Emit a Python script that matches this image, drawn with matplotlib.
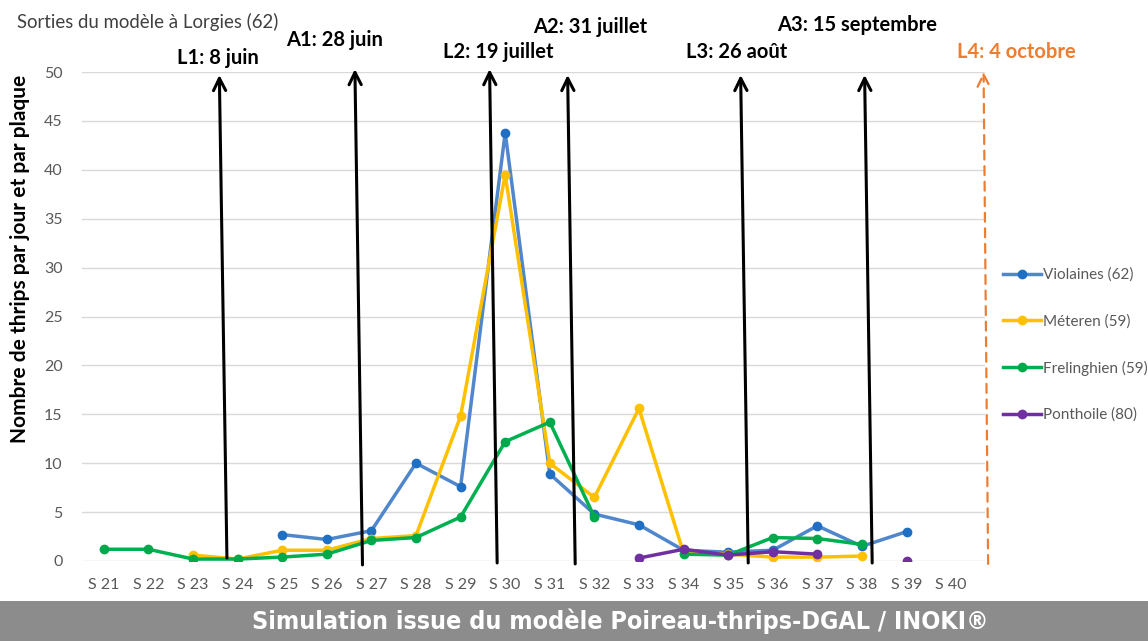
import numpy as np
import matplotlib
matplotlib.use('Agg')
import matplotlib.pyplot as plt
from matplotlib.patches import Rectangle

plt.rcParams['font.family'] = ['Lato', 'DejaVu Sans']

# weeks on the x axis
weeks = ['S 21', 'S 22', 'S 23', 'S 24', 'S 25', 'S 26', 'S 27', 'S 28', 'S 29', 'S 30',
         'S 31', 'S 32', 'S 33', 'S 34', 'S 35', 'S 36', 'S 37', 'S 38', 'S 39', 'S 40']

nan = np.nan
# thrips per day and per plate
violaines = [nan, nan, nan, nan, 2.7, 2.2, 3.1, 10.0, 7.6, 43.8,
             8.9, 4.8, 3.7, 1.1, 0.9, 1.1, 3.6, 1.5, 3.0, nan]
meteren = [nan, nan, 0.6, 0.2, 1.1, 1.1, 2.3, 2.6, 14.8, 39.5,
           10.0, 6.5, 15.6, 0.8, 0.7, 0.4, 0.4, 0.5, nan, nan]
frelinghien = [1.2, 1.2, 0.2, 0.2, 0.4, 0.7, 2.1, 2.4, 4.5, 12.2,
               14.2, 4.5, nan, 0.7, 0.6, 2.4, 2.3, 1.7, nan, nan]
ponthoile = [nan, nan, nan, nan, nan, nan, nan, nan, nan, nan,
             nan, nan, 0.3, 1.2, 0.6, 0.95, 0.7, nan, 0.0, nan]

series_names = ['Violaines (62)', 'Méteren (59)', 'Frelinghien (59)', 'Ponthoile (80)']

# model outputs: label and date expressed in weeks (S 21 = 0)
events = ['L1: 8 juin', 'A1: 28 juin', 'L2: 19 juillet', 'A2: 31 juillet',
          'L3: 26 août', 'A3: 15 septembre', 'L4: 4 octobre']
event_week = [2.76, 5.80, 8.82, 10.57, 14.45, 17.23, 19.83]

fig = plt.figure(figsize=(11.48, 6.41), dpi=100)
ax = fig.add_axes([82 / 1148, 1 - 561 / 641, (985 - 82) / 1148, (561 - 72) / 641])

x = np.arange(len(weeks))
line_cols = ['#5087CC', '#FFC000', '#00B050', '#7030A0']
mark_cols = ['#1F6FC5', '#FFC000', '#00A84C', '#7030A0']
for vals, name, lc, mc in zip([violaines, meteren, frelinghien, ponthoile],
                              series_names, line_cols, mark_cols):
    ax.plot(x, vals, color=lc, lw=2.5, marker='o', ms=6, mfc=mc, mec=mc,
            label=name, zorder=3)

ax.set_xlim(-0.49, 19.76)
ax.set_ylim(0, 50)
ax.set_yticks(np.arange(0, 51, 5))
ax.set_xticks(x)
ax.set_xticklabels(weeks)
ax.grid(axis='y', color='#d9d9d9', lw=1)
ax.set_axisbelow(True)
for s in ax.spines.values():
    s.set_visible(False)
ax.tick_params(length=0, colors='#595959', labelsize=11.5)
ax.tick_params(axis='y', pad=14)
ax.tick_params(axis='x', pad=12)

fig.text(20 / 1148, 1 - 259 / 641, 'Nombre de thrips par jour et par plaque',
         rotation=90, ha='center', va='center', fontsize=15, fontweight='bold')
fig.text(17 / 1148, 1 - 22 / 641, 'Sorties du modèle à Lorgies (62)',
         ha='left', va='center', fontsize=13.4, color='#404040')

# arrows for model events
lean = -0.17
label_dx = [-0.04, -0.46, 0.2, 0.51, -0.09, -0.16, 0.74]
label_y = [51.4, 53.3, 52.0, 54.6, 52.0, 54.8, 52.0]
bottoms = [0.3, -0.4, -0.2, -0.3, -0.2, -0.2, -0.3]
tops = [49.7, 50.3, 50.3, 49.7, 49.7, 49.7, 50.0]
for i, (lab, w) in enumerate(zip(events, event_week)):
    last = i == len(events) - 1
    col = '#ED7D31' if last else 'black'
    top_w = w + (lean * 0.6 if last else lean)
    ax.annotate('', xy=(top_w, tops[i]), xytext=(w, bottoms[i]),
                arrowprops=dict(arrowstyle='->', color=col, lw=1.6 if last else 2.2,
                                ls=(0, (4, 3)) if last else '-', mutation_scale=22,
                                shrinkA=0, shrinkB=0),
                annotation_clip=False, zorder=4)
    ax.text(top_w + label_dx[i], label_y[i], lab, ha='center', va='center',
            fontsize=14.5, fontweight='bold', color=col, clip_on=False)

ax.legend(loc='center left', bbox_to_anchor=(1003 / 1148, 1 - 345 / 641),
          bbox_transform=fig.transFigure, frameon=False, handlelength=2.5,
          handletextpad=0.1, labelspacing=2.1, fontsize=11, labelcolor='#595959',
          borderaxespad=0, borderpad=0)

# bottom banner
fig.patches.append(Rectangle((0, 0), 1, 40 / 641, transform=fig.transFigure,
                             facecolor='#8c8c8c', edgecolor='none'))
fig.text(620 / 1148, 20 / 641, 'Simulation issue du modèle Poireau-thrips-DGAL / INOKI®',
         ha='center', va='center', color='white', fontsize=18, fontweight='bold',
         family='DejaVu Sans', fontstretch='condensed')

fig.savefig('out.png', dpi=100)
